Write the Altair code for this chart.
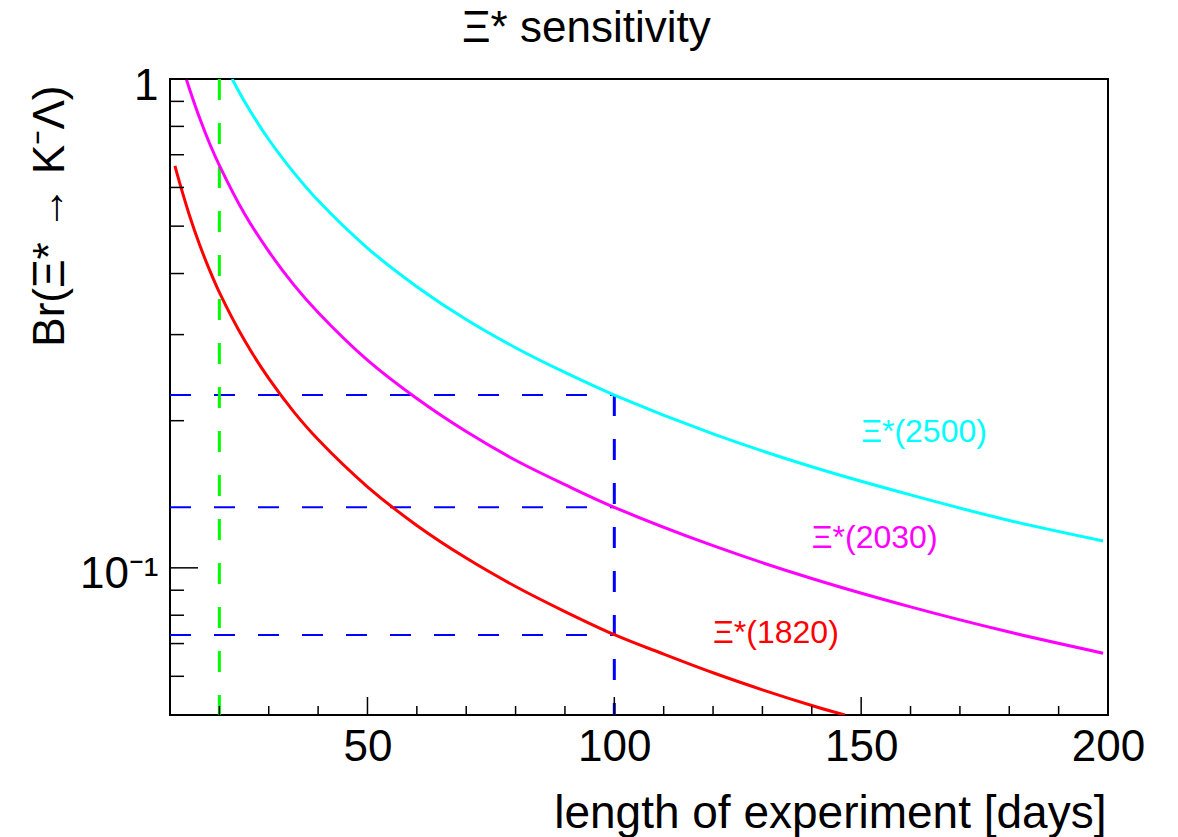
import altair as alt
import pandas as pd

FONT = "Liberation Sans"

# ---- data ----
days_1820 = [11, 12, 14, 16, 18, 20, 25, 30, 35, 40, 50, 60, 70, 80, 90, 100, 110, 120, 130, 140, 146.7]
br_1820 = [0.664, 0.611, 0.524, 0.458, 0.407, 0.366, 0.293, 0.244, 0.209, 0.183, 0.1465, 0.1221, 0.1047,
           0.0916, 0.0814, 0.0730, 0.0666, 0.0610, 0.0563, 0.0523, 0.0500]

days_2030 = [13.3, 14, 16, 18, 20, 25, 30, 35, 40, 50, 60, 70, 80, 90, 100, 120, 140, 160, 180, 199]
br_2030 = [1.0, 0.951, 0.832, 0.739, 0.666, 0.532, 0.444, 0.380, 0.333, 0.266, 0.222, 0.190, 0.166,
           0.148, 0.133, 0.111, 0.0951, 0.0832, 0.0739, 0.0669]

days_2500 = [22.6, 25, 30, 35, 40, 50, 60, 70, 80, 90, 100, 120, 140, 160, 180, 199]
br_2500 = [1.0, 0.903, 0.752, 0.645, 0.564, 0.451, 0.376, 0.322, 0.282, 0.251, 0.2257, 0.188, 0.161,
           0.141, 0.125, 0.1135]

series_names = ["Ξ*(1820)", "Ξ*(2030)", "Ξ*(2500)"]
series_colors = ["#ff0000", "#ff00ff", "#00ffff"]

# reference lines
ref_day = 100
ref_br = [0.2257, 0.1331, 0.0729]
run_start_day = 20

# label positions (left edge day, baseline value)
label_days = [120, 140, 150]
label_br = [0.0702, 0.110, 0.181]

# axis ticks
x_major = [50, 100, 150, 200]
x_minor = [20, 30, 40, 60, 70, 80, 90, 110, 120, 130, 140, 160, 170, 180, 190]
y_major = [0.1, 1]
y_minor = [0.05, 0.06, 0.07, 0.08, 0.09, 0.2, 0.3, 0.4, 0.5, 0.6, 0.7, 0.8, 0.9]

title_text = ["Ξ* sensitivity"]

X_MIN, X_MAX = 10, 200
Y_MIN, Y_MAX = 0.05, 1

W, H = 938, 636

# ---- tables ----
curves = pd.concat([
    pd.DataFrame({"day": days_1820, "br": br_1820, "series": series_names[0]}),
    pd.DataFrame({"day": days_2030, "br": br_2030, "series": series_names[1]}),
    pd.DataFrame({"day": days_2500, "br": br_2500, "series": series_names[2]}),
], ignore_index=True)

hlines = pd.DataFrame({"day": [X_MIN] * 3, "day2": [ref_day] * 3, "br": ref_br})
vline_blue = pd.DataFrame({"day": [ref_day], "br": [max(ref_br)], "br2": [Y_MIN]})
vline_green = pd.DataFrame({"day": [run_start_day], "br": [Y_MAX], "br2": [Y_MIN]})
labels = pd.DataFrame({"day": label_days, "br": label_br, "series": series_names})
xmaj = pd.DataFrame({"day": x_major})
xmin_ = pd.DataFrame({"day": x_minor})
ymaj = pd.DataFrame({"br": y_major})
ymin_ = pd.DataFrame({"br": y_minor})
title_df = pd.DataFrame({"t": title_text})

# ---- scales / axes ----
x_scale = alt.Scale(domain=[X_MIN, X_MAX], nice=False, zero=False)
y_scale = alt.Scale(type="log", domain=[Y_MIN, Y_MAX], nice=False)
color_scale = alt.Scale(domain=series_names, range=series_colors)

x_axis = alt.Axis(
    values=x_major, ticks=False, tickSize=0, domain=False, grid=False,
    labelFont=FONT, labelFontSize=44, labelColor="black", labelBaseline="alphabetic",
    labelPadding=45, labelFlush=False,
    title="length of experiment [days]", titleFont=FONT, titleFontSize=46,
    titleFontWeight="normal", titleColor="black", titleX=936, titleY=112,
    titleAlign="right", titleBaseline="alphabetic",
)
y_axis = alt.Axis(
    values=y_major, ticks=False, tickSize=0, domain=False, grid=False,
    labelFont=FONT, labelFontSize=44, labelColor="black", labelBaseline="alphabetic",
    labelOffset=20, labelPadding=12, labelFlush=False,
    labelExpr="datum.value >= 1 ? '1' : '10⁻¹'",
    title="Br(Ξ* → K⁻Λ)", titleFont=FONT, titleFontSize=44, titleFontWeight="normal",
    titleColor="black", titleAngle=270, titleX=-107, titleY=6, titleAlign="right",
    titleBaseline="alphabetic",
)


def X(field="day"):
    return alt.X(f"{field}:Q", scale=x_scale, axis=x_axis)


def Y(field="br"):
    return alt.Y(f"{field}:Q", scale=y_scale, axis=y_axis)


lines = alt.Chart(curves).mark_line(strokeWidth=3, interpolate="catmull-rom", clip=True).encode(
    x=X(), y=Y(),
    color=alt.Color("series:N", scale=color_scale, legend=None),
    detail="series:N",
)

h_rules = alt.Chart(hlines).mark_rule(color="#0000ff", strokeWidth=2, strokeDash=[21, 23]).encode(
    x=X(), x2="day2:Q", y=Y()
)
v_blue = alt.Chart(vline_blue).mark_rule(color="#0000ff", strokeWidth=3, strokeDash=[21, 23]).encode(
    x=X(), y=Y(), y2="br2:Q"
)
v_green = alt.Chart(vline_green).mark_rule(color="#00ff00", strokeWidth=3, strokeDash=[21, 23]).encode(
    x=X(), y=Y(), y2="br2:Q"
)

text = alt.Chart(labels).mark_text(
    font=FONT, fontSize=32, align="left", baseline="alphabetic"
).encode(
    x=X(), y=Y(), text="series:N",
    color=alt.Color("series:N", scale=color_scale, legend=None),
)

title_mark = alt.Chart(title_df).mark_text(
    font=FONT, fontSize=44, align="left", baseline="alphabetic", color="black"
).encode(
    x=alt.value(292), y=alt.value(-37), text="t:N"
)

xt_major = alt.Chart(xmaj).mark_rule(color="black", strokeWidth=1.5).encode(
    x=X(), y=alt.value(H), y2=alt.value(H - 18)
)
xt_minor = alt.Chart(xmin_).mark_rule(color="black", strokeWidth=1.5).encode(
    x=X(), y=alt.value(H), y2=alt.value(H - 9)
)
yt_major = alt.Chart(ymaj).mark_rule(color="black", strokeWidth=1.5).encode(
    y=Y(), x=alt.value(0), x2=alt.value(28)
)
yt_minor = alt.Chart(ymin_).mark_rule(color="black", strokeWidth=1.5).encode(
    y=Y(), x=alt.value(0), x2=alt.value(14)
)

chart = alt.layer(
    h_rules, v_green, v_blue, lines, text, title_mark,
    xt_major, xt_minor, yt_major, yt_minor
).properties(
    width=W, height=H,
    autosize=alt.AutoSizeParams(type="none"),
    padding={"left": 170, "top": 79, "right": 70, "bottom": 122},
    background="white",
).configure_view(
    stroke="black", strokeWidth=2
)

chart.save("out.html", embed_options={"renderer": "svg", "actions": False})
